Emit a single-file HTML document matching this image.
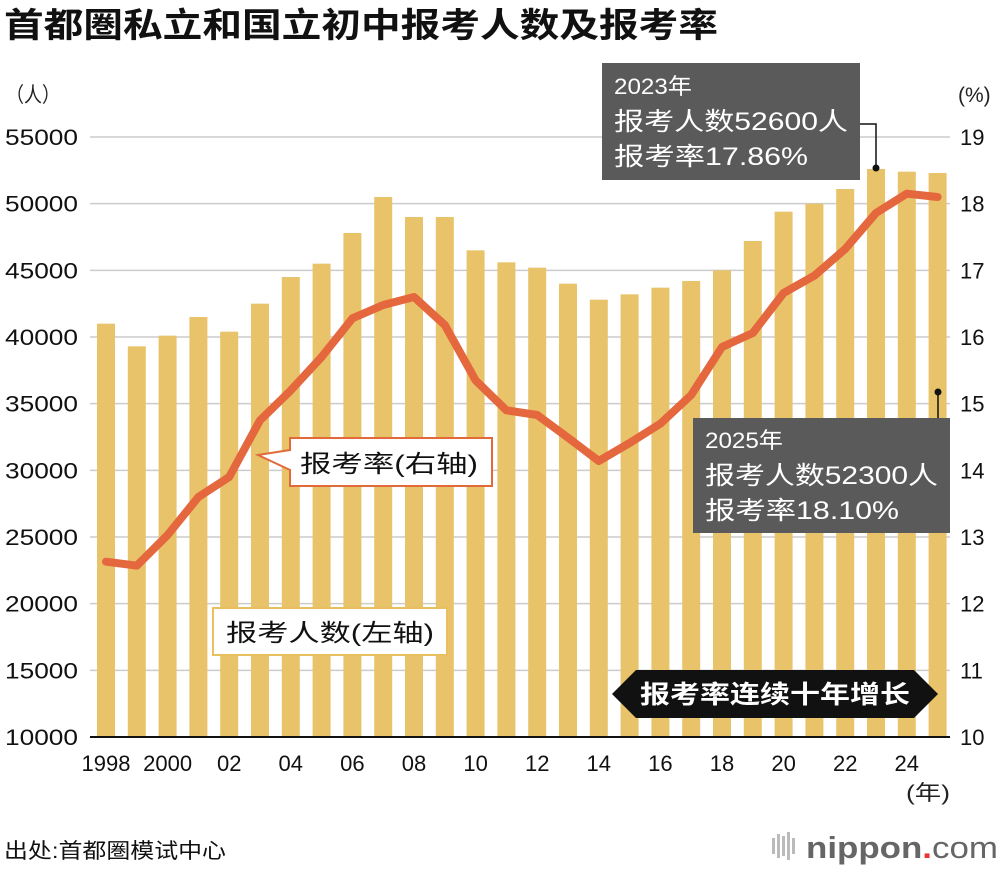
<!DOCTYPE html>
<html><head><meta charset="utf-8"><style>
body{margin:0;background:#fff;width:1000px;height:870px;overflow:hidden;font-family:"Liberation Sans","Noto Sans CJK SC",sans-serif}
svg text{font-family:"Liberation Sans","Noto Sans CJK SC",sans-serif}
</style></head><body>
<svg id="c" width="1000" height="870">
<text x="4" y="37" font-size="34" font-weight="bold" fill="#111" textLength="714" lengthAdjust="spacingAndGlyphs">首都圏私立和国立初中报考人数及报考率</text>
<text x="6" y="102" font-size="21" fill="#222" textLength="54" lengthAdjust="spacingAndGlyphs">（人）</text>
<text x="958" y="102" font-size="21" fill="#222">(%)</text>
<g id="grid"></g><g id="bars"></g><g id="line"></g><g id="axes"></g>
<text x="906" y="800" font-size="21" fill="#222" textLength="44" lengthAdjust="spacingAndGlyphs">(年)</text>
<g>
<path d="M290,438 H492 V486 H290 V470 L258,455 L290,450 Z" fill="#fff" stroke="#e06a3a" stroke-width="2"/>
<text x="300" y="472" font-size="24" fill="#111" textLength="178" lengthAdjust="spacingAndGlyphs">报考率(右轴)</text></g>
<g>
<rect x="213" y="608" width="234" height="47" fill="#fff" stroke="#e8c060" stroke-width="2"/>
<text x="226" y="641" font-size="24" fill="#111" textLength="208" lengthAdjust="spacingAndGlyphs">报考人数(左轴)</text></g>
<g>
<path d="M612,694 L636,670 H914 L938,694 L914,718 H636 Z" fill="#111"/>
<text x="640" y="703" font-size="25" font-weight="bold" fill="#fff" textLength="270" lengthAdjust="spacingAndGlyphs">报考率连续十年增长</text></g>
<g>
<rect x="602" y="63" width="258" height="117" fill="#5a5a5a"/>
<text x="614" y="94" font-size="22" fill="#fff" textLength="78" lengthAdjust="spacingAndGlyphs">2023年</text>
<text x="614" y="130" font-size="25" fill="#fff" textLength="234" lengthAdjust="spacingAndGlyphs">报考人数52600人</text>
<text x="614" y="165" font-size="25" fill="#fff" textLength="194" lengthAdjust="spacingAndGlyphs">报考率17.86%</text>
<polyline points="860,124 876,124 876,168" fill="none" stroke="#111" stroke-width="1.5"/>
<circle cx="876" cy="168" r="3.5" fill="#111"/></g>
<g>
<rect x="693" y="418" width="257" height="115" fill="#5a5a5a"/>
<text x="705" y="448" font-size="22" fill="#fff" textLength="78" lengthAdjust="spacingAndGlyphs">2025年</text>
<text x="705" y="484" font-size="25" fill="#fff" textLength="233" lengthAdjust="spacingAndGlyphs">报考人数52300人</text>
<text x="705" y="519" font-size="25" fill="#fff" textLength="194" lengthAdjust="spacingAndGlyphs">报考率18.10%</text>
<line x1="938" y1="392" x2="938" y2="418" stroke="#111" stroke-width="1.5"/>
<circle cx="938" cy="392" r="3.5" fill="#111"/></g>
<text x="4" y="858" font-size="21" fill="#111" textLength="222" lengthAdjust="spacingAndGlyphs">出处:首都圏模试中心</text>
<g>
<g fill="#bbb"><rect x="772" y="838" width="3" height="16"/><rect x="777" y="834" width="3" height="24"/><rect x="782" y="836" width="3" height="20"/><rect x="787" y="832" width="3" height="28"/><rect x="792" y="838" width="3" height="16"/></g>
<text x="806" y="858" font-size="31" fill="#666" font-weight="bold" textLength="192" lengthAdjust="spacingAndGlyphs">nippon<tspan fill="#e33">.</tspan><tspan font-weight="normal">com</tspan></text></g>
</svg>
<script>
const years=[1998,1999,2000,2001,2002,2003,2004,2005,2006,2007,2008,2009,2010,2011,2012,2013,2014,2015,2016,2017,2018,2019,2020,2021,2022,2023,2024,2025];
const applicants=[41000,39300,40100,41500,40400,42500,44500,45500,47800,50500,49000,49000,46500,45600,45200,44000,42800,43200,43700,44200,45000,47200,49400,50000,51100,52600,52400,52300];
const rates=[12.63,12.57,13.03,13.6,13.9,14.75,15.2,15.7,16.28,16.48,16.6,16.18,15.35,14.9,14.83,14.49,14.14,14.41,14.7,15.13,15.85,16.06,16.66,16.92,17.32,17.86,18.15,18.10];
const leftTicks=[10000,15000,20000,25000,30000,35000,40000,45000,50000,55000];
const rightTicks=[10,11,12,13,14,15,16,17,18,19];
const xLabels=["1998","2000","02","04","06","08","10","12","14","16","18","20","22","24"];
const xLabelYears=[1998,2000,2002,2004,2006,2008,2010,2012,2014,2016,2018,2020,2022,2024];
const NS="http://www.w3.org/2000/svg";
const T=137,B=737;
const yL=v=>B-(v-10000)/45000*(B-T);
const yR=v=>B-(v-10)/9*(B-T);
const x=yr=>106+(yr-1998)*30.8;
function mk(tag,attrs,parent,txt){const e=document.createElementNS(NS,tag);for(const k in attrs)e.setAttribute(k,attrs[k]);if(txt!==undefined)e.textContent=txt;document.getElementById(parent).appendChild(e);return e;}
leftTicks.forEach((t,i)=>{
 const g=mk('line',{x1:90,x2:950,y1:yL(t),y2:yL(t),stroke:'#ccc','stroke-width':1.5},'grid');
 
 
 const l=mk('text',{x:78,y:yL(t)+8,'font-size':22,fill:'#111','text-anchor':'end',textLength:73,lengthAdjust:'spacingAndGlyphs'},'axes',String(t));
 
 
});
rightTicks.forEach(t=>{
 const l=mk('text',{x:960,y:yR(t)+8,'font-size':22,fill:'#111'},'axes',String(t));
 
 
});
applicants.forEach((v,i)=>{
 const b=mk('rect',{x:x(years[i])-9,y:yL(v),width:18,height:B-yL(v),fill:'#e8c36a'},'bars');
 
 
});
const p=mk('polyline',{points:rates.map((r,i)=>x(years[i])+','+yR(r)).join(' '),fill:'none',stroke:'#e4673e','stroke-width':8,'stroke-linejoin':'round','stroke-linecap':'round'},'line');


const ax=mk('line',{x1:90,x2:950,y1:B,y2:B,stroke:'#111','stroke-width':2},'axes');


xLabels.forEach((s,i)=>{
 const l=mk('text',{x:x(xLabelYears[i]),y:771,'font-size':22,fill:'#111','text-anchor':'middle'},'axes',s);
 
 
});
</script>
</body></html>
